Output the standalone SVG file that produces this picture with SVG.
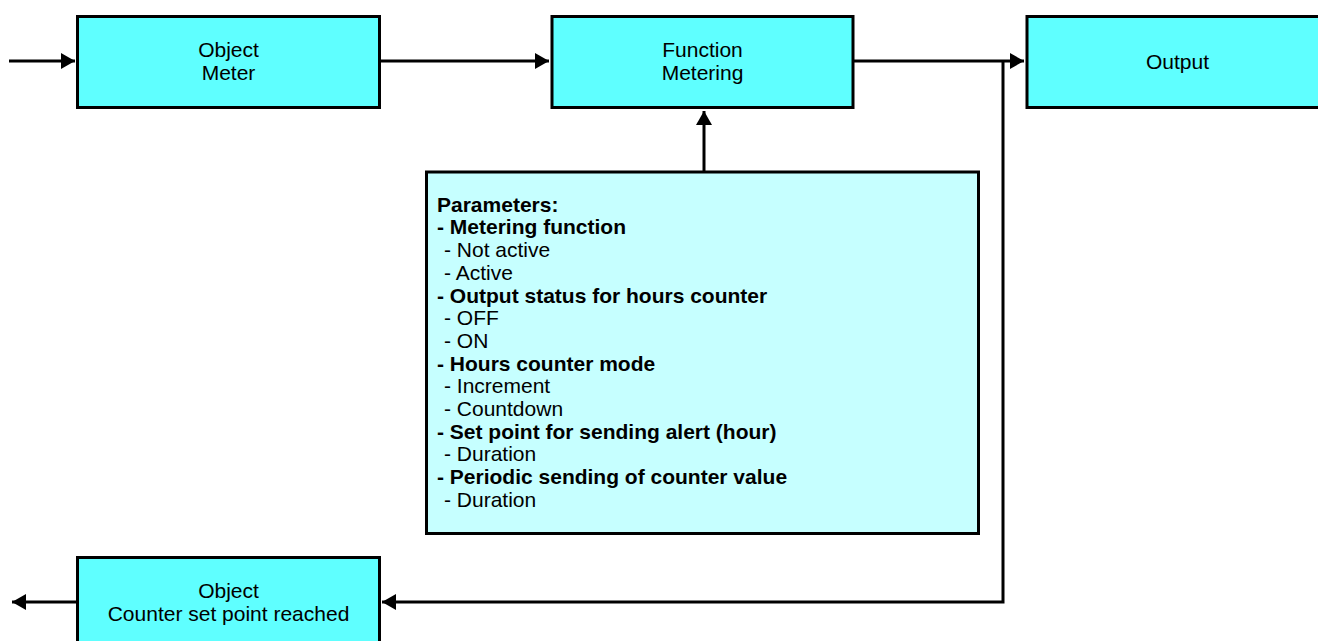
<svg xmlns="http://www.w3.org/2000/svg" width="1318" height="641" viewBox="0 0 1318 641">
<style>
.box{fill:#5FFFFF;stroke:#000;stroke-width:3}
.pbox{fill:#C6FFFF;stroke:#000;stroke-width:3}
.t{font-family:"Liberation Sans",Arial,sans-serif;font-size:21px;fill:#000}
.c{text-anchor:middle}
.b{font-weight:bold}
.ln{fill:none;stroke:#000;stroke-width:3}
.ar{stroke:none;fill:#000}
</style>
<defs>
<marker id="ah" markerUnits="userSpaceOnUse" markerWidth="16" markerHeight="18" refX="14" refY="8" orient="auto">
<path d="M0,0 L14,8 L0,16 z" fill="#000"/>
</marker>
</defs>
<rect width="1318" height="641" fill="#fff"/>
<g id="connectors">
<line class="ln" x1="9" y1="61" x2="75" y2="61" marker-end="url(#ah)"/>
<line class="ln" x1="380" y1="61" x2="549" y2="61" marker-end="url(#ah)"/>
<line class="ln" x1="853" y1="61" x2="1024" y2="61" marker-end="url(#ah)"/>
<polyline class="ln" points="1003,61 1003,602 382,602" marker-end="url(#ah)"/>
<line class="ln" x1="704" y1="172" x2="704" y2="111" marker-end="url(#ah)"/>
<line class="ln" x1="77" y1="602" x2="12" y2="602" marker-end="url(#ah)"/>
</g>
<g id="node-object-meter">
<rect class="box" x="77.5" y="16.5" width="302" height="91"/>
<text class="t c" x="228.5" y="57">Object</text>
<text class="t c" x="228.5" y="80">Meter</text>
</g>
<g id="node-function-metering">
<rect class="box" x="552" y="16.5" width="301" height="91"/>
<text class="t c" x="702.5" y="57">Function</text>
<text class="t c" x="702.5" y="80">Metering</text>
</g>
<g id="node-output">
<rect class="box" x="1027" y="16.5" width="310" height="91"/>
<text class="t c" x="1177.5" y="68.5">Output</text>
</g>
<g id="node-parameters">
<rect class="pbox" x="426.5" y="172" width="552" height="361.5"/>
<text class="t b" x="437" y="211.7">Parameters:</text>
<text class="t b" x="437" y="234.4">- Metering function</text>
<text class="t" x="444" y="257.1">- Not active</text>
<text class="t" x="444" y="279.8">- Active</text>
<text class="t b" x="437" y="302.5">- Output status for hours counter</text>
<text class="t" x="444" y="325.2">- OFF</text>
<text class="t" x="444" y="347.9">- ON</text>
<text class="t b" x="437" y="370.6">- Hours counter mode</text>
<text class="t" x="444" y="393.3">- Increment</text>
<text class="t" x="444" y="416">- Countdown</text>
<text class="t b" x="437" y="438.7">- Set point for sending alert (hour)</text>
<text class="t" x="444" y="461.4">- Duration</text>
<text class="t b" x="437" y="484.1">- Periodic sending of counter value</text>
<text class="t" x="444" y="506.8">- Duration</text>
</g>
<g id="node-counter-set-point">
<rect class="box" x="77.5" y="557.5" width="302" height="100"/>
<text class="t c" x="228.5" y="598">Object</text>
<text class="t c" x="228.5" y="621">Counter set point reached</text>
</g>
</svg>
